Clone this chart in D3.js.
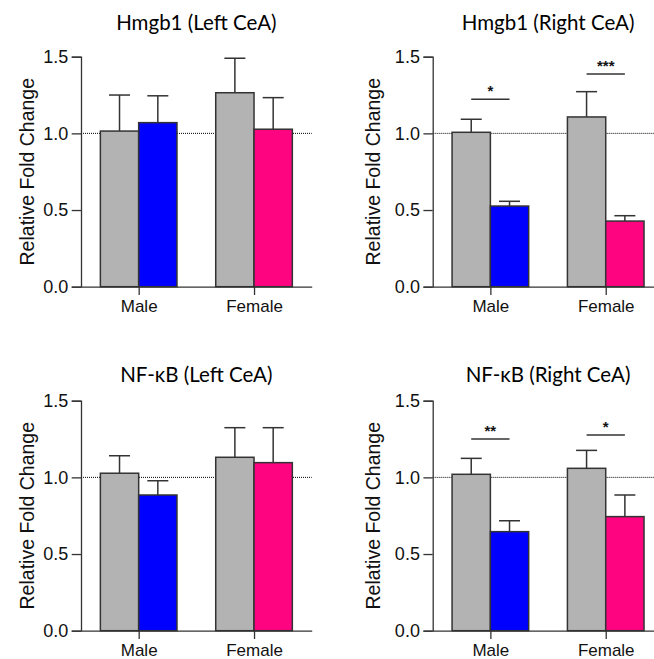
<!DOCTYPE html>
<html>
<head>
<meta charset="utf-8">
<script src="https://cdn.jsdelivr.net/npm/d3@7"></script>
<style>
  body { margin: 0; background: #fff; }
</style>
</head>
<body>
<div id="chart"></div>
<script>
// data
var groups = ["Male", "Female"];
var panelTitles = ["Hmgb1 (Left CeA)", "Hmgb1 (Right CeA)", "NF-κB (Left CeA)", "NF-κB (Right CeA)"];
var controlMeans = [[1.015, 1.265], [1.007, 1.107], [1.027, 1.131], [1.020, 1.059]];
var controlSem = [[0.235, 0.225], [0.085, 0.165], [0.114, 0.193], [0.104, 0.117]];
var treatMeans = [[1.070, 1.027], [0.526, 0.428], [0.885, 1.096], [0.646, 0.744]];
var treatSem = [[0.175, 0.206], [0.031, 0.035], [0.093, 0.228], [0.071, 0.141]];
var sigLabels = [[], ["*", "***"], [], ["**", "*"]];
var sigLevels = [[], [1.222, 1.387], [], [1.250, 1.277]];
var yTicks = [0, 0.5, 1.0, 1.5];

var svgWidth = 654;
var svgHeight = 659;

var treatColors = ["#0000ff", "#ff0480"];
var grey = "#b3b3b3";
var ink = "#333";
var arial = "'Liberation Sans', Arial, sans-serif";

// panel placement: axis origin x, y of zero line, title baseline, y label x
var panels = [
  { x: 81, y0: 286.7, titleY: 30, labelX: 27 },
  { x: 432.7, y0: 286.7, titleY: 30, labelX: 373 },
  { x: 81, y0: 630.7, titleY: 381.7, labelX: 27 },
  { x: 432.7, y0: 630.7, titleY: 381.7, labelX: 373 }
];
var plotW = 230.7;
var plotH = 230;

var svg = d3.select("#chart")
  .append("svg")
  .attr("width", svgWidth)
  .attr("height", svgHeight);

panels.forEach(function(p, i) {
  var chart = svg.append("g")
    .attr("transform", `translate(${p.x}, ${p.y0 - plotH})`);

  var yScale = d3.scaleLinear()
    .domain([0, 1.5])
    .range([plotH, 0]);

  var xGroup = d3.scalePoint()
    .domain(groups)
    .range([0, plotW])
    .padding(0.5);

  var xSub = d3.scaleBand()
    .domain(["control", "treat"])
    .range([-38.3, 38.3]);

  // dotted reference line at 1.0
  chart.append("line")
    .attr("x1", 0)
    .attr("x2", plotW)
    .attr("y1", yScale(1))
    .attr("y2", yScale(1))
    .attr("stroke", "#000")
    .attr("stroke-width", 1)
    .attr("stroke-dasharray", "1,1");

  var rows = groups.map(function(g, j) {
    return [
      { group: g, sub: "control", mean: controlMeans[i][j], sem: controlSem[i][j], fill: grey },
      { group: g, sub: "treat", mean: treatMeans[i][j], sem: treatSem[i][j], fill: treatColors[j] }
    ];
  }).flat();

  // error bars (upper only)
  var err = chart.selectAll(".err").data(rows).enter().append("g")
    .attr("class", "err")
    .attr("transform", d => `translate(${xGroup(d.group) + xSub(d.sub) + xSub.bandwidth() / 2}, 0)`);
  err.append("line")
    .attr("y1", d => yScale(d.mean))
    .attr("y2", d => yScale(d.mean + d.sem))
    .attr("stroke", ink)
    .attr("stroke-width", 1.5);
  err.append("line")
    .attr("x1", -10.5)
    .attr("x2", 10.5)
    .attr("y1", d => yScale(d.mean + d.sem))
    .attr("y2", d => yScale(d.mean + d.sem))
    .attr("stroke", ink)
    .attr("stroke-width", 1.5);

  chart.selectAll(".bar").data(rows).enter().append("rect")
    .attr("class", "bar")
    .attr("x", d => xGroup(d.group) + xSub(d.sub))
    .attr("width", xSub.bandwidth())
    .attr("y", d => yScale(d.mean))
    .attr("height", d => plotH - yScale(d.mean))
    .attr("fill", d => d.fill)
    .attr("stroke", ink)
    .attr("stroke-width", 1.5);

  // y axis
  var yAxis = d3.axisLeft(yScale)
    .tickValues(yTicks)
    .tickFormat(d3.format(".1f"))
    .tickSize(9.3)
    .tickPadding(3.5);
  var yg = chart.append("g").call(yAxis);
  yg.select(".domain").attr("stroke", ink).attr("stroke-width", 1.3);
  yg.selectAll(".tick line").attr("stroke", ink).attr("stroke-width", 1.3);
  yg.selectAll(".tick text")
    .attr("fill", "#111")
    .style("font-family", arial)
    .style("font-size", "18px");

  // x axis
  var xAxis = d3.axisBottom(xGroup)
    .tickSize(8.3)
    .tickSizeOuter(0)
    .tickPadding(5);
  var xg = chart.append("g")
    .attr("transform", `translate(0, ${plotH})`)
    .call(xAxis);
  xg.select(".domain").attr("stroke", ink).attr("stroke-width", 1.3);
  xg.selectAll(".tick line").attr("stroke", ink).attr("stroke-width", 1.3);
  xg.selectAll(".tick text")
    .attr("fill", "#111")
    .style("font-family", arial)
    .style("font-size", "17px");

  // significance bars
  sigLabels[i].forEach(function(lab, j) {
    var g = groups[j];
    var left = xGroup(g) + xSub("control") + xSub.bandwidth() / 2;
    var right = xGroup(g) + xSub("treat") + xSub.bandwidth() / 2;
    chart.append("line")
      .attr("x1", left)
      .attr("x2", right)
      .attr("y1", yScale(sigLevels[i][j]))
      .attr("y2", yScale(sigLevels[i][j]))
      .attr("stroke", ink)
      .attr("stroke-width", 1.5);
    chart.append("text")
      .attr("x", (left + right) / 2)
      .attr("y", yScale(sigLevels[i][j]) - 3)
      .attr("text-anchor", "middle")
      .style("font-family", arial)
      .style("font-size", "15px")
      .style("font-weight", "bold")
      .attr("fill", "#111")
      .text(lab);
  });

  // title
  svg.append("text")
    .attr("x", p.x + plotW / 2)
    .attr("y", p.titleY)
    .attr("text-anchor", "middle")
    .style("font-family", "Lato, sans-serif")
    .style("font-size", "20.5px")
    .attr("fill", "#000")
    .text(panelTitles[i]);

  // y axis label
  svg.append("text")
    .attr("transform", `translate(${p.labelX}, ${p.y0 - plotH / 2}) rotate(-90)`)
    .attr("text-anchor", "middle")
    .attr("dy", "0.35em")
    .style("font-family", arial)
    .style("font-size", "19.5px")
    .attr("fill", "#111")
    .text("Relative Fold Change");
});
</script>
</body>
</html>
